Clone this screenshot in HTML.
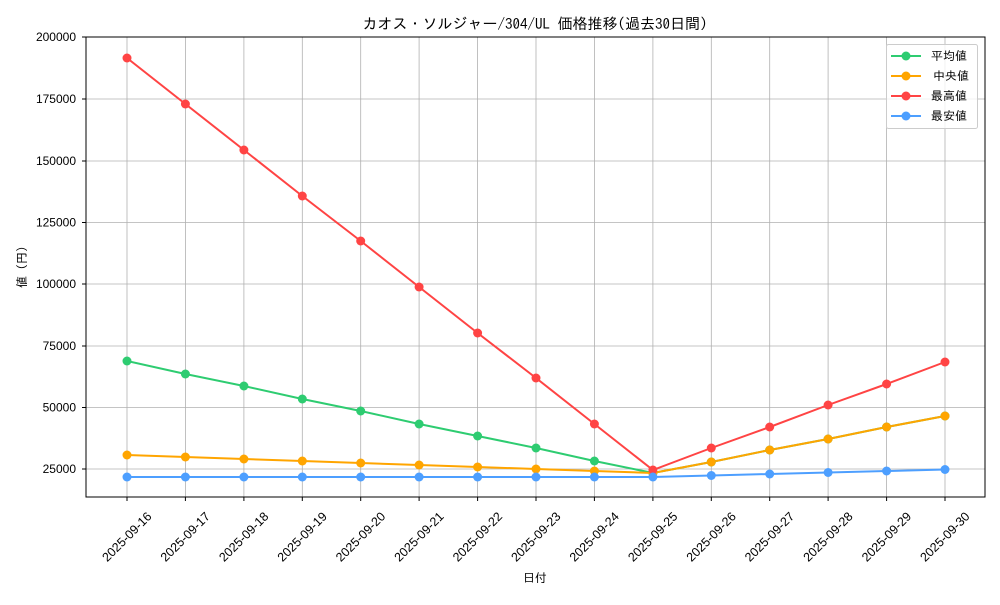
<!DOCTYPE html>
<html><head><meta charset="utf-8"><style>
body{margin:0;background:#fff}
text{font-family:"IPAGothic","Noto Sans CJK JP",sans-serif;fill:#000}
.t{font-family:"Liberation Sans","DejaVu Sans",sans-serif}
</style></head><body>
<svg width="1000" height="600" xmlns="http://www.w3.org/2000/svg">
<rect width="1000" height="600" fill="#fff"/>
<g stroke="#b0b0b0" stroke-width="0.8">
<line x1="127" y1="37" x2="127" y2="497"/><line x1="185.4" y1="37" x2="185.4" y2="497"/><line x1="243.9" y1="37" x2="243.9" y2="497"/><line x1="302.3" y1="37" x2="302.3" y2="497"/><line x1="360.7" y1="37" x2="360.7" y2="497"/><line x1="419.1" y1="37" x2="419.1" y2="497"/><line x1="477.6" y1="37" x2="477.6" y2="497"/><line x1="536" y1="37" x2="536" y2="497"/><line x1="594.4" y1="37" x2="594.4" y2="497"/><line x1="652.9" y1="37" x2="652.9" y2="497"/><line x1="711.3" y1="37" x2="711.3" y2="497"/><line x1="769.7" y1="37" x2="769.7" y2="497"/><line x1="828.1" y1="37" x2="828.1" y2="497"/><line x1="886.6" y1="37" x2="886.6" y2="497"/><line x1="945" y1="37" x2="945" y2="497"/>
<line x1="86" y1="99" x2="985" y2="99"/><line x1="86" y1="161" x2="985" y2="161"/><line x1="86" y1="222.5" x2="985" y2="222.5"/><line x1="86" y1="284" x2="985" y2="284"/><line x1="86" y1="346" x2="985" y2="346"/><line x1="86" y1="407.5" x2="985" y2="407.5"/><line x1="86" y1="469" x2="985" y2="469"/>
</g>
<rect x="86" y="37" width="899" height="460" fill="none" stroke="#000" stroke-width="1"/>
<g stroke="#000"><line x1="82" y1="37" x2="86" y2="37"/><line x1="82" y1="99" x2="86" y2="99"/><line x1="82" y1="161" x2="86" y2="161"/><line x1="82" y1="222.5" x2="86" y2="222.5"/><line x1="82" y1="284" x2="86" y2="284"/><line x1="82" y1="346" x2="86" y2="346"/><line x1="82" y1="407.5" x2="86" y2="407.5"/><line x1="82" y1="469" x2="86" y2="469"/>
<line x1="127" y1="497" x2="127" y2="501"/><line x1="185.4" y1="497" x2="185.4" y2="501"/><line x1="243.9" y1="497" x2="243.9" y2="501"/><line x1="302.3" y1="497" x2="302.3" y2="501"/><line x1="360.7" y1="497" x2="360.7" y2="501"/><line x1="419.1" y1="497" x2="419.1" y2="501"/><line x1="477.6" y1="497" x2="477.6" y2="501"/><line x1="536" y1="497" x2="536" y2="501"/><line x1="594.4" y1="497" x2="594.4" y2="501"/><line x1="652.9" y1="497" x2="652.9" y2="501"/><line x1="711.3" y1="497" x2="711.3" y2="501"/><line x1="769.7" y1="497" x2="769.7" y2="501"/><line x1="828.1" y1="497" x2="828.1" y2="501"/><line x1="886.6" y1="497" x2="886.6" y2="501"/><line x1="945" y1="497" x2="945" y2="501"/></g>
<g font-size="12" text-anchor="end" class="t">
<text class="t" x="76" y="41">200000</text><text class="t" x="76" y="103">175000</text><text class="t" x="76" y="165">150000</text><text class="t" x="76" y="226.5">125000</text><text class="t" x="76" y="288">100000</text><text class="t" x="76" y="350">75000</text><text class="t" x="76" y="411.5">50000</text><text class="t" x="76" y="473">25000</text>
</g>
<g font-size="12.5" text-anchor="middle">
<text class="t" transform="translate(127,537) rotate(-45)" dy="4">2025-09-16</text><text class="t" transform="translate(185.4,537) rotate(-45)" dy="4">2025-09-17</text><text class="t" transform="translate(243.9,537) rotate(-45)" dy="4">2025-09-18</text><text class="t" transform="translate(302.3,537) rotate(-45)" dy="4">2025-09-19</text><text class="t" transform="translate(360.7,537) rotate(-45)" dy="4">2025-09-20</text><text class="t" transform="translate(419.1,537) rotate(-45)" dy="4">2025-09-21</text><text class="t" transform="translate(477.6,537) rotate(-45)" dy="4">2025-09-22</text><text class="t" transform="translate(536,537) rotate(-45)" dy="4">2025-09-23</text><text class="t" transform="translate(594.4,537) rotate(-45)" dy="4">2025-09-24</text><text class="t" transform="translate(652.9,537) rotate(-45)" dy="4">2025-09-25</text><text class="t" transform="translate(711.3,537) rotate(-45)" dy="4">2025-09-26</text><text class="t" transform="translate(769.7,537) rotate(-45)" dy="4">2025-09-27</text><text class="t" transform="translate(828.1,537) rotate(-45)" dy="4">2025-09-28</text><text class="t" transform="translate(886.6,537) rotate(-45)" dy="4">2025-09-29</text><text class="t" transform="translate(945,537) rotate(-45)" dy="4">2025-09-30</text>
</g>
<text x="535" y="582" font-size="12" text-anchor="middle">日付</text>
<text transform="translate(26,267) rotate(-90)" font-size="12" text-anchor="middle">値 (円)</text>
<text x="535" y="29" font-size="15" text-anchor="middle">カオス・ソルジャー/304/UL 価格推移(過去30日間)</text>
<g fill="none" stroke-width="2">
<polyline stroke="#2ecc71" points="127,361 185.4,374 243.9,386 302.3,399 360.7,411 419.1,424 477.6,436 536,448 594.4,461 652.9,473 711.3,462 769.7,450 828.1,439 886.6,427 945,416"/>
<polyline stroke="#ffa500" points="127,455 185.4,457 243.9,459 302.3,461 360.7,463 419.1,465 477.6,467 536,469 594.4,471 652.9,473 711.3,462 769.7,450 828.1,439 886.6,427 945,416"/>
<polyline stroke="#ff4444" points="127,58 185.4,104 243.9,150 302.3,196 360.7,241 419.1,287 477.6,333 536,378 594.4,424 652.9,470 711.3,448 769.7,427 828.1,405 886.6,384 945,362"/>
<polyline stroke="#4d9fff" points="127,477 185.4,477 243.9,477 302.3,477 360.7,477 419.1,477 477.6,477 536,477 594.4,477 652.9,477 711.3,475.5 769.7,474 828.1,472.5 886.6,471 945,469.5"/>
</g>
<g fill="#2ecc71"><circle cx="127" cy="361" r="4.5"/><circle cx="185.4" cy="374" r="4.5"/><circle cx="243.9" cy="386" r="4.5"/><circle cx="302.3" cy="399" r="4.5"/><circle cx="360.7" cy="411" r="4.5"/><circle cx="419.1" cy="424" r="4.5"/><circle cx="477.6" cy="436" r="4.5"/><circle cx="536" cy="448" r="4.5"/><circle cx="594.4" cy="461" r="4.5"/><circle cx="652.9" cy="473" r="4.5"/><circle cx="711.3" cy="462" r="4.5"/><circle cx="769.7" cy="450" r="4.5"/><circle cx="828.1" cy="439" r="4.5"/><circle cx="886.6" cy="427" r="4.5"/><circle cx="945" cy="416" r="4.5"/></g>
<g fill="#ffa500"><circle cx="127" cy="455" r="4.5"/><circle cx="185.4" cy="457" r="4.5"/><circle cx="243.9" cy="459" r="4.5"/><circle cx="302.3" cy="461" r="4.5"/><circle cx="360.7" cy="463" r="4.5"/><circle cx="419.1" cy="465" r="4.5"/><circle cx="477.6" cy="467" r="4.5"/><circle cx="536" cy="469" r="4.5"/><circle cx="594.4" cy="471" r="4.5"/><circle cx="652.9" cy="473" r="4.5"/><circle cx="711.3" cy="462" r="4.5"/><circle cx="769.7" cy="450" r="4.5"/><circle cx="828.1" cy="439" r="4.5"/><circle cx="886.6" cy="427" r="4.5"/><circle cx="945" cy="416" r="4.5"/></g>
<g fill="#ff4444"><circle cx="127" cy="58" r="4.5"/><circle cx="185.4" cy="104" r="4.5"/><circle cx="243.9" cy="150" r="4.5"/><circle cx="302.3" cy="196" r="4.5"/><circle cx="360.7" cy="241" r="4.5"/><circle cx="419.1" cy="287" r="4.5"/><circle cx="477.6" cy="333" r="4.5"/><circle cx="536" cy="378" r="4.5"/><circle cx="594.4" cy="424" r="4.5"/><circle cx="652.9" cy="470" r="4.5"/><circle cx="711.3" cy="448" r="4.5"/><circle cx="769.7" cy="427" r="4.5"/><circle cx="828.1" cy="405" r="4.5"/><circle cx="886.6" cy="384" r="4.5"/><circle cx="945" cy="362" r="4.5"/></g>
<g fill="#4d9fff"><circle cx="127" cy="477" r="4.5"/><circle cx="185.4" cy="477" r="4.5"/><circle cx="243.9" cy="477" r="4.5"/><circle cx="302.3" cy="477" r="4.5"/><circle cx="360.7" cy="477" r="4.5"/><circle cx="419.1" cy="477" r="4.5"/><circle cx="477.6" cy="477" r="4.5"/><circle cx="536" cy="477" r="4.5"/><circle cx="594.4" cy="477" r="4.5"/><circle cx="652.9" cy="477" r="4.5"/><circle cx="711.3" cy="475.5" r="4.5"/><circle cx="769.7" cy="474" r="4.5"/><circle cx="828.1" cy="472.5" r="4.5"/><circle cx="886.6" cy="471" r="4.5"/><circle cx="945" cy="469.5" r="4.5"/></g>
<rect x="886.5" y="44.5" width="91" height="84" rx="2" fill="#fff" fill-opacity="0.8" stroke="#ccc"/>
<g stroke-width="2">
<line x1="891" y1="56" x2="921" y2="56" stroke="#2ecc71"/><circle cx="906" cy="56" r="4.5" fill="#2ecc71"/>
<line x1="891" y1="76" x2="921" y2="76" stroke="#ffa500"/><circle cx="906" cy="76" r="4.5" fill="#ffa500"/>
<line x1="891" y1="96" x2="921" y2="96" stroke="#ff4444"/><circle cx="906" cy="96" r="4.5" fill="#ff4444"/>
<line x1="891" y1="116" x2="921" y2="116" stroke="#4d9fff"/><circle cx="906" cy="116" r="4.5" fill="#4d9fff"/>
</g>
<g font-size="12"><text x="931" y="60">平均値</text><text x="933" y="80">中央値</text><text x="931" y="100">最高値</text><text x="931" y="120">最安値</text></g>
</svg>
</body></html>
